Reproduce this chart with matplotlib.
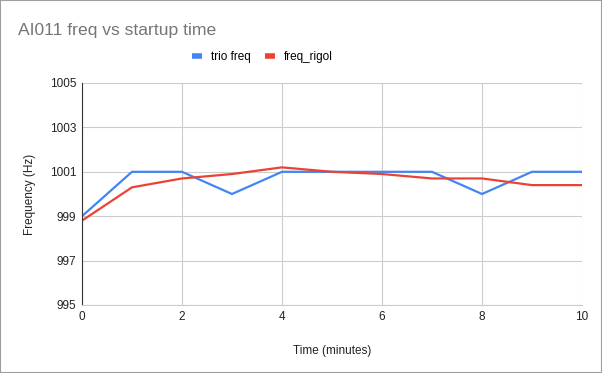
import matplotlib
matplotlib.use("Agg")
import matplotlib.pyplot as plt
from matplotlib.patches import Rectangle

plt.rcParams['font.family'] = ['Liberation Sans', 'DejaVu Sans']

minutes = [0, 1, 2, 3, 4, 5, 6, 7, 8, 9, 10]
trio_freq = [999, 1001, 1001, 1000, 1001, 1001, 1001, 1001, 1000, 1001, 1001]
freq_rigol = [998.8, 1000.3, 1000.7, 1000.9, 1001.2, 1001.0, 1000.9, 1000.7, 1000.7, 1000.4, 1000.4]
y_ticks = [995, 997, 999, 1001, 1003, 1005]
x_ticks = [0, 2, 4, 6, 8, 10]

fig = plt.figure(figsize=(6.02, 3.73), dpi=100)
ax = fig.add_axes([82/602, 68/373, 500/602, 222/373])

ax.plot(minutes, trio_freq, color='#4285F4', lw=1.6, label='trio freq')
ax.plot(minutes, freq_rigol, color='#EA4335', lw=1.6, label='freq_rigol')

ax.set_xlim(0, 10)
ax.set_ylim(995, 1005)
ax.set_xticks(x_ticks)
ax.set_yticks(y_ticks)
ax.grid(True, color='#cccccc', lw=0.8)
ax.set_axisbelow(True)
for s in ['top', 'right']:
    ax.spines[s].set_visible(False)
ax.spines['bottom'].set_color('#cccccc')
ax.spines['left'].set_color('#333333')
ax.tick_params(length=0, labelsize=8.5, labelcolor='#222222', pad=4)
ax.set_xlabel('Time (minutes)', fontsize=8.5, color='#222222', labelpad=16)
ax.set_ylabel('Frequency (Hz)', fontsize=8.5, color='#222222', labelpad=10)

fig.text(18/602, 1 - 31/373, 'AI011 freq vs startup time', fontsize=12.6, color='#757575', va='center', ha='left')

leg = fig.legend(loc='center', bbox_to_anchor=(262/602, 1 - 57/373), ncol=2, frameon=False,
                 fontsize=8.5, handlelength=0.9, handletextpad=0.7, columnspacing=1.2)
for line in leg.get_lines():
    line.set_linewidth(4)
    line.set_solid_capstyle('butt')

fig.patches.append(Rectangle((0, 0), 1, 1, transform=fig.transFigure, fill=False,
                             edgecolor='#9e9e9e', lw=1.5))

fig.savefig('out.png', dpi=100)
